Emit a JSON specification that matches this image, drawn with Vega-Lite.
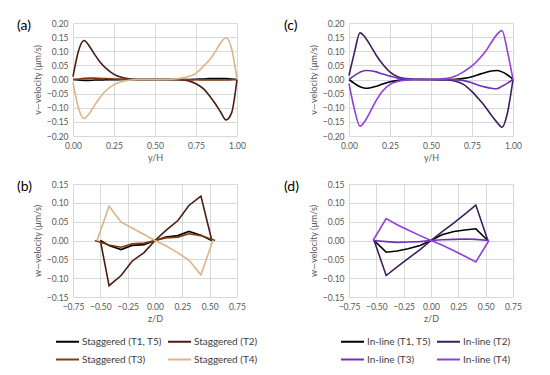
{
"$schema": "https://vega.github.io/schema/vega-lite/v6.json",
"padding": {"left": 17, "top": 19, "right": 5, "bottom": 5},
"background": "white",
"columns": 2,
"spacing": {"row": 48, "column": 112},
"bounds": "flush",
"resolve": {"scale": {"color": "independent", "x": "independent", "y": "independent"}, "legend": {"color": "independent"}},
"datasets": {
"a": [
{"s":"T1, T5","x":0,"v":0},{"s":"T1, T5","x":0.033,"v":-0.002},{"s":"T1, T5","x":0.067,"v":-0.003},{"s":"T1, T5","x":0.1,"v":-0.003},{"s":"T1, T5","x":0.133,"v":-0.002},{"s":"T1, T5","x":0.167,"v":-0.002},{"s":"T1, T5","x":0.2,"v":-0.001},{"s":"T1, T5","x":0.25,"v":-0.001},{"s":"T1, T5","x":0.3,"v":0},{"s":"T1, T5","x":0.35,"v":0},{"s":"T1, T5","x":0.4,"v":0},{"s":"T1, T5","x":0.5,"v":0},{"s":"T1, T5","x":0.6,"v":0},{"s":"T1, T5","x":0.65,"v":0},{"s":"T1, T5","x":0.7,"v":0},{"s":"T1, T5","x":0.75,"v":0.001},{"s":"T1, T5","x":0.8,"v":0.002},{"s":"T1, T5","x":0.833,"v":0.003},{"s":"T1, T5","x":0.867,"v":0.003},{"s":"T1, T5","x":0.9,"v":0.003},{"s":"T1, T5","x":0.933,"v":0.003},{"s":"T1, T5","x":0.967,"v":0.002},{"s":"T1, T5","x":1,"v":0},
{"s":"T2","x":0,"v":0.01},{"s":"T2","x":0.033,"v":0.1},{"s":"T2","x":0.067,"v":0.138},{"s":"T2","x":0.1,"v":0.118},{"s":"T2","x":0.133,"v":0.088},{"s":"T2","x":0.167,"v":0.06},{"s":"T2","x":0.2,"v":0.04},{"s":"T2","x":0.25,"v":0.018},{"s":"T2","x":0.3,"v":0.007},{"s":"T2","x":0.35,"v":0.002},{"s":"T2","x":0.4,"v":0},{"s":"T2","x":0.5,"v":0},{"s":"T2","x":0.6,"v":0},{"s":"T2","x":0.65,"v":-0.001},{"s":"T2","x":0.7,"v":-0.004},{"s":"T2","x":0.75,"v":-0.015},{"s":"T2","x":0.8,"v":-0.035},{"s":"T2","x":0.833,"v":-0.058},{"s":"T2","x":0.867,"v":-0.085},{"s":"T2","x":0.9,"v":-0.115},{"s":"T2","x":0.933,"v":-0.143},{"s":"T2","x":0.967,"v":-0.118},{"s":"T2","x":1,"v":0},
{"s":"T3","x":0,"v":0},{"s":"T3","x":0.033,"v":0.002},{"s":"T3","x":0.067,"v":0.004},{"s":"T3","x":0.1,"v":0.005},{"s":"T3","x":0.133,"v":0.005},{"s":"T3","x":0.167,"v":0.004},{"s":"T3","x":0.2,"v":0.003},{"s":"T3","x":0.25,"v":0.002},{"s":"T3","x":0.3,"v":0.001},{"s":"T3","x":0.35,"v":0},{"s":"T3","x":0.4,"v":0},{"s":"T3","x":0.5,"v":0},{"s":"T3","x":0.6,"v":0},{"s":"T3","x":0.65,"v":0},{"s":"T3","x":0.7,"v":-0.001},{"s":"T3","x":0.75,"v":-0.001},{"s":"T3","x":0.8,"v":-0.002},{"s":"T3","x":0.833,"v":-0.002},{"s":"T3","x":0.867,"v":-0.002},{"s":"T3","x":0.9,"v":-0.002},{"s":"T3","x":0.933,"v":-0.002},{"s":"T3","x":0.967,"v":-0.001},{"s":"T3","x":1,"v":0},
{"s":"T4","x":0,"v":-0.01},{"s":"T4","x":0.033,"v":-0.1},{"s":"T4","x":0.067,"v":-0.138},{"s":"T4","x":0.1,"v":-0.12},{"s":"T4","x":0.133,"v":-0.09},{"s":"T4","x":0.167,"v":-0.062},{"s":"T4","x":0.2,"v":-0.04},{"s":"T4","x":0.25,"v":-0.018},{"s":"T4","x":0.3,"v":-0.007},{"s":"T4","x":0.35,"v":-0.002},{"s":"T4","x":0.4,"v":0},{"s":"T4","x":0.5,"v":0},{"s":"T4","x":0.6,"v":0.001},{"s":"T4","x":0.65,"v":0.004},{"s":"T4","x":0.7,"v":0.01},{"s":"T4","x":0.75,"v":0.022},{"s":"T4","x":0.8,"v":0.05},{"s":"T4","x":0.833,"v":0.07},{"s":"T4","x":0.867,"v":0.098},{"s":"T4","x":0.9,"v":0.13},{"s":"T4","x":0.933,"v":0.148},{"s":"T4","x":0.967,"v":0.11},{"s":"T4","x":1,"v":0}
],
"c": [
{"s":"T1, T5","x":0,"v":0},{"s":"T1, T5","x":0.033,"v":-0.014},{"s":"T1, T5","x":0.067,"v":-0.026},{"s":"T1, T5","x":0.1,"v":-0.031},{"s":"T1, T5","x":0.133,"v":-0.029},{"s":"T1, T5","x":0.167,"v":-0.024},{"s":"T1, T5","x":0.2,"v":-0.017},{"s":"T1, T5","x":0.25,"v":-0.008},{"s":"T1, T5","x":0.3,"v":-0.003},{"s":"T1, T5","x":0.35,"v":-0.001},{"s":"T1, T5","x":0.4,"v":0},{"s":"T1, T5","x":0.5,"v":0},{"s":"T1, T5","x":0.6,"v":0},{"s":"T1, T5","x":0.65,"v":0.001},{"s":"T1, T5","x":0.7,"v":0.004},{"s":"T1, T5","x":0.75,"v":0.01},{"s":"T1, T5","x":0.8,"v":0.019},{"s":"T1, T5","x":0.833,"v":0.025},{"s":"T1, T5","x":0.867,"v":0.03},{"s":"T1, T5","x":0.9,"v":0.032},{"s":"T1, T5","x":0.933,"v":0.027},{"s":"T1, T5","x":0.967,"v":0.016},{"s":"T1, T5","x":1,"v":0},
{"s":"T2","x":0,"v":0.014},{"s":"T2","x":0.033,"v":0.095},{"s":"T2","x":0.067,"v":0.165},{"s":"T2","x":0.1,"v":0.148},{"s":"T2","x":0.133,"v":0.118},{"s":"T2","x":0.167,"v":0.085},{"s":"T2","x":0.2,"v":0.058},{"s":"T2","x":0.25,"v":0.026},{"s":"T2","x":0.3,"v":0.009},{"s":"T2","x":0.35,"v":0.003},{"s":"T2","x":0.4,"v":0.001},{"s":"T2","x":0.5,"v":0},{"s":"T2","x":0.6,"v":-0.002},{"s":"T2","x":0.65,"v":-0.006},{"s":"T2","x":0.7,"v":-0.018},{"s":"T2","x":0.75,"v":-0.043},{"s":"T2","x":0.8,"v":-0.075},{"s":"T2","x":0.833,"v":-0.098},{"s":"T2","x":0.867,"v":-0.126},{"s":"T2","x":0.9,"v":-0.15},{"s":"T2","x":0.933,"v":-0.169},{"s":"T2","x":0.967,"v":-0.116},{"s":"T2","x":1,"v":0},
{"s":"T3","x":0,"v":0},{"s":"T3","x":0.033,"v":0.014},{"s":"T3","x":0.067,"v":0.026},{"s":"T3","x":0.1,"v":0.032},{"s":"T3","x":0.133,"v":0.031},{"s":"T3","x":0.167,"v":0.027},{"s":"T3","x":0.2,"v":0.02},{"s":"T3","x":0.25,"v":0.012},{"s":"T3","x":0.3,"v":0.005},{"s":"T3","x":0.35,"v":0.002},{"s":"T3","x":0.4,"v":0},{"s":"T3","x":0.5,"v":0},{"s":"T3","x":0.6,"v":0},{"s":"T3","x":0.65,"v":-0.001},{"s":"T3","x":0.7,"v":-0.004},{"s":"T3","x":0.75,"v":-0.012},{"s":"T3","x":0.8,"v":-0.022},{"s":"T3","x":0.833,"v":-0.027},{"s":"T3","x":0.867,"v":-0.031},{"s":"T3","x":0.9,"v":-0.033},{"s":"T3","x":0.933,"v":-0.024},{"s":"T3","x":0.967,"v":-0.013},{"s":"T3","x":1,"v":0},
{"s":"T4","x":0,"v":-0.015},{"s":"T4","x":0.033,"v":-0.105},{"s":"T4","x":0.067,"v":-0.165},{"s":"T4","x":0.1,"v":-0.145},{"s":"T4","x":0.133,"v":-0.11},{"s":"T4","x":0.167,"v":-0.073},{"s":"T4","x":0.2,"v":-0.044},{"s":"T4","x":0.25,"v":-0.017},{"s":"T4","x":0.3,"v":-0.006},{"s":"T4","x":0.35,"v":-0.002},{"s":"T4","x":0.4,"v":0},{"s":"T4","x":0.5,"v":0},{"s":"T4","x":0.6,"v":0.004},{"s":"T4","x":0.65,"v":0.012},{"s":"T4","x":0.7,"v":0.028},{"s":"T4","x":0.75,"v":0.048},{"s":"T4","x":0.8,"v":0.077},{"s":"T4","x":0.833,"v":0.1},{"s":"T4","x":0.867,"v":0.13},{"s":"T4","x":0.9,"v":0.158},{"s":"T4","x":0.933,"v":0.173},{"s":"T4","x":0.967,"v":0.097},{"s":"T4","x":1,"v":0}
],
"b": [
{"s":"T1, T5","x":-0.5,"v":0},{"s":"T1, T5","x":-0.42,"v":-0.013},{"s":"T1, T5","x":-0.31,"v":-0.024},{"s":"T1, T5","x":-0.21,"v":-0.013},{"s":"T1, T5","x":-0.1,"v":-0.011},{"s":"T1, T5","x":0,"v":0},{"s":"T1, T5","x":0.1,"v":0.009},{"s":"T1, T5","x":0.21,"v":0.013},{"s":"T1, T5","x":0.31,"v":0.024},{"s":"T1, T5","x":0.42,"v":0.014},{"s":"T1, T5","x":0.52,"v":0},
{"s":"T2","x":-0.5,"v":0},{"s":"T2","x":-0.42,"v":-0.12},{"s":"T2","x":-0.31,"v":-0.093},{"s":"T2","x":-0.21,"v":-0.055},{"s":"T2","x":-0.1,"v":-0.032},{"s":"T2","x":0,"v":0},{"s":"T2","x":0.1,"v":0.027},{"s":"T2","x":0.21,"v":0.053},{"s":"T2","x":0.31,"v":0.093},{"s":"T2","x":0.42,"v":0.118},{"s":"T2","x":0.52,"v":0},
{"s":"T3","x":-0.55,"v":0},{"s":"T3","x":-0.42,"v":-0.012},{"s":"T3","x":-0.31,"v":-0.018},{"s":"T3","x":-0.21,"v":-0.009},{"s":"T3","x":-0.1,"v":-0.007},{"s":"T3","x":0,"v":0},{"s":"T3","x":0.1,"v":0.007},{"s":"T3","x":0.21,"v":0.009},{"s":"T3","x":0.31,"v":0.018},{"s":"T3","x":0.42,"v":0.013},{"s":"T3","x":0.55,"v":0},
{"s":"T4","x":-0.53,"v":0},{"s":"T4","x":-0.42,"v":0.091},{"s":"T4","x":-0.31,"v":0.049},{"s":"T4","x":-0.21,"v":0.033},{"s":"T4","x":-0.1,"v":0.016},{"s":"T4","x":0,"v":0},{"s":"T4","x":0.1,"v":-0.014},{"s":"T4","x":0.21,"v":-0.033},{"s":"T4","x":0.31,"v":-0.052},{"s":"T4","x":0.42,"v":-0.091},{"s":"T4","x":0.53,"v":0}
],
"d": [
{"s":"T1, T5","x":-0.52,"v":0},{"s":"T1, T5","x":-0.41,"v":-0.031},{"s":"T1, T5","x":-0.31,"v":-0.028},{"s":"T1, T5","x":-0.21,"v":-0.022},{"s":"T1, T5","x":-0.1,"v":-0.013},{"s":"T1, T5","x":0,"v":0},{"s":"T1, T5","x":0.1,"v":0.015},{"s":"T1, T5","x":0.21,"v":0.024},{"s":"T1, T5","x":0.31,"v":0.028},{"s":"T1, T5","x":0.41,"v":0.031},{"s":"T1, T5","x":0.52,"v":0},
{"s":"T2","x":-0.52,"v":0},{"s":"T2","x":-0.41,"v":-0.093},{"s":"T2","x":-0.31,"v":-0.07},{"s":"T2","x":-0.21,"v":-0.048},{"s":"T2","x":-0.1,"v":-0.024},{"s":"T2","x":0,"v":0},{"s":"T2","x":0.1,"v":0.023},{"s":"T2","x":0.21,"v":0.047},{"s":"T2","x":0.31,"v":0.07},{"s":"T2","x":0.41,"v":0.094},{"s":"T2","x":0.52,"v":0},
{"s":"T3","x":-0.53,"v":0},{"s":"T3","x":-0.41,"v":-0.003},{"s":"T3","x":-0.31,"v":-0.005},{"s":"T3","x":-0.21,"v":-0.004},{"s":"T3","x":-0.1,"v":-0.003},{"s":"T3","x":0,"v":0},{"s":"T3","x":0.1,"v":0.002},{"s":"T3","x":0.21,"v":0.003},{"s":"T3","x":0.31,"v":0.004},{"s":"T3","x":0.41,"v":0.003},{"s":"T3","x":0.53,"v":0},
{"s":"T4","x":-0.53,"v":0},{"s":"T4","x":-0.41,"v":0.058},{"s":"T4","x":-0.31,"v":0.042},{"s":"T4","x":-0.21,"v":0.028},{"s":"T4","x":-0.1,"v":0.013},{"s":"T4","x":0,"v":0},{"s":"T4","x":0.1,"v":-0.012},{"s":"T4","x":0.21,"v":-0.027},{"s":"T4","x":0.31,"v":-0.042},{"s":"T4","x":0.41,"v":-0.057},{"s":"T4","x":0.53,"v":0}
]
},
"concat": [
{
"width": 164, "height": 113,
"data": {"name": "a"},
"title": {"text": "(a)", "anchor": "start", "frame": "group", "dx": -56, "offset": -14},
"mark": {"type": "line", "interpolate": "monotone", "strokeWidth": 1.6},
"encoding": {
"x": {"field": "x", "type": "quantitative", "scale": {"domain": [0, 1]}, "axis": {"values": [0, 0.25, 0.5, 0.75, 1], "format": ".2f", "title": "y/H"}},
"y": {"field": "v", "type": "quantitative", "scale": {"domain": [-0.2, 0.2]}, "axis": {"values": [-0.2, -0.15, -0.1, -0.05, 0, 0.05, 0.1, 0.15, 0.2], "format": ".2f", "title": "v\u2014velocity (\u03bcm/s)"}},
"color": {"field": "s", "type": "nominal", "scale": {"domain": ["T1, T5", "T2", "T3", "T4"], "range": ["#000000", "#4a1c12", "#843c0c", "#dcb48c"]}, "legend": null}
}
},
{
"width": 164, "height": 113,
"data": {"name": "c"},
"title": {"text": "(c)", "anchor": "start", "frame": "group", "dx": -65, "offset": -14},
"mark": {"type": "line", "interpolate": "monotone", "strokeWidth": 1.6},
"encoding": {
"x": {"field": "x", "type": "quantitative", "scale": {"domain": [0, 1]}, "axis": {"values": [0, 0.25, 0.5, 0.75, 1], "format": ".2f", "title": "y/H"}},
"y": {"field": "v", "type": "quantitative", "scale": {"domain": [-0.2, 0.2]}, "axis": {"values": [-0.2, -0.15, -0.1, -0.05, 0, 0.05, 0.1, 0.15, 0.2], "format": ".2f", "title": "v\u2014velocity (\u03bcm/s)"}},
"color": {"field": "s", "type": "nominal", "scale": {"domain": ["T1, T5", "T2", "T3", "T4"], "range": ["#000000", "#3d1f5e", "#7030b8", "#9040d8"]}, "legend": null}
}
},
{
"width": 164, "height": 113,
"data": {"name": "b"},
"title": {"text": "(b)", "anchor": "start", "frame": "group", "dx": -56, "offset": -14},
"mark": {"type": "line", "strokeWidth": 1.6},
"encoding": {
"x": {"field": "x", "type": "quantitative", "scale": {"domain": [-0.75, 0.75]}, "axis": {"values": [-0.75, -0.5, -0.25, 0, 0.25, 0.5, 0.75], "format": ".2f", "title": "z/D"}},
"y": {"field": "v", "type": "quantitative", "scale": {"domain": [-0.15, 0.15]}, "axis": {"values": [-0.15, -0.1, -0.05, 0, 0.05, 0.1, 0.15], "format": ".2f", "title": "w\u2014velocity (\u03bcm/s)"}},
"color": {"field": "s", "type": "nominal", "scale": {"domain": ["T1, T5", "T2", "T3", "T4"], "range": ["#000000", "#4a1c12", "#843c0c", "#dcb48c"]},
"legend": {"orient": "none", "legendX": -18, "legendY": 145, "labelExpr": "'Staggered (' + datum.label + ')'"}}
}
},
{
"width": 164, "height": 113,
"data": {"name": "d"},
"title": {"text": "(d)", "anchor": "start", "frame": "group", "dx": -65, "offset": -14},
"mark": {"type": "line", "strokeWidth": 1.6},
"encoding": {
"x": {"field": "x", "type": "quantitative", "scale": {"domain": [-0.75, 0.75]}, "axis": {"values": [-0.75, -0.5, -0.25, 0, 0.25, 0.5, 0.75], "format": ".2f", "title": "z/D"}},
"y": {"field": "v", "type": "quantitative", "scale": {"domain": [-0.15, 0.15]}, "axis": {"values": [-0.15, -0.1, -0.05, 0, 0.05, 0.1, 0.15], "format": ".2f", "title": "w\u2014velocity (\u03bcm/s)"}},
"color": {"field": "s", "type": "nominal", "scale": {"domain": ["T1, T5", "T2", "T3", "T4"], "range": ["#000000", "#3d1f5e", "#7030b8", "#9040d8"]},
"legend": {"orient": "none", "legendX": -9, "legendY": 145, "labelExpr": "'In-line (' + datum.label + ')'"}}
}
}
],
"config": {
"font": "Lato",
"view": {"stroke": null},
"axis": {"labelFontSize": 8.5, "labelColor": "#595959", "titleFontSize": 9, "titleFontWeight": "normal", "titleColor": "#595959", "gridColor": "#d9d9d9", "domain": false, "ticks": false, "labelPadding": 5, "titlePadding": 4, "labelFlush": false},
"title": {"fontSize": 14, "fontWeight": "normal", "color": "#000000"},
"legend": {"title": null, "columns": 2, "direction": "horizontal", "symbolType": "stroke", "symbolStrokeWidth": 2, "symbolSize": 529, "labelFontSize": 10, "labelColor": "#404040", "columnPadding": 2, "rowPadding": -1, "labelOffset": 2}
}
}
